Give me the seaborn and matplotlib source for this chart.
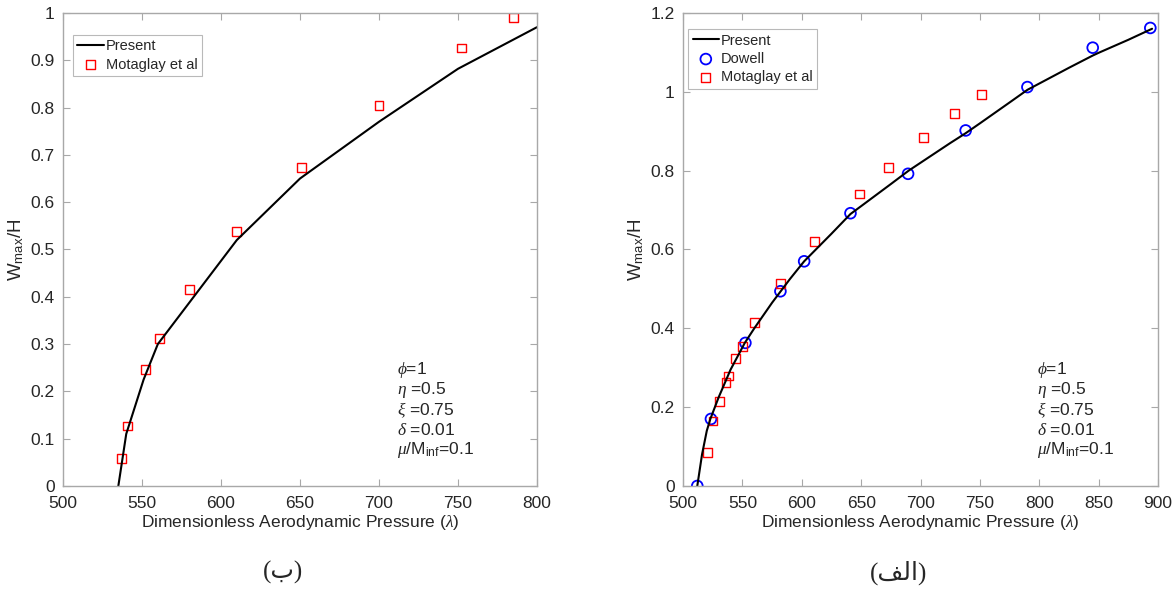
import matplotlib
matplotlib.use("Agg")
import matplotlib.pyplot as plt
import seaborn as sns

# Panel (b): left
left_present_x = [535, 540, 551, 560, 610, 650, 700, 750, 800]
left_present_y = [0.0, 0.11, 0.225, 0.30, 0.52, 0.65, 0.77, 0.882, 0.97]
left_mot_x = [537, 541, 552, 561, 580, 610, 651, 700, 752, 785]
left_mot_y = [0.058, 0.127, 0.247, 0.311, 0.416, 0.538, 0.674, 0.804, 0.926, 0.991]

# Panel (a): right
right_present_x = [512, 516, 520, 523, 530, 540, 552, 560, 575, 590, 602, 625, 641,
                   650, 675, 690, 700, 725, 738, 750, 775, 790, 800, 825, 845, 850, 875, 895]
right_present_y = [0.0, 0.08, 0.14, 0.17, 0.225, 0.295, 0.363, 0.40, 0.465, 0.525, 0.57,
                   0.64, 0.69, 0.71, 0.766, 0.80, 0.82, 0.87, 0.895, 0.92, 0.973, 1.005,
                   1.021, 1.061, 1.092, 1.099, 1.132, 1.16]
right_dowell_x = [512, 523.5, 552.5, 582, 602, 641, 689.5, 738, 790, 845, 893.5]
right_dowell_y = [0.0, 0.170, 0.363, 0.494, 0.570, 0.692, 0.792, 0.902, 1.012, 1.112, 1.162]
right_mot_x = [520.5, 525.3, 530.6, 536.2, 538, 544.3, 549.9, 560.2, 582, 610.4, 648.7,
               673.3, 702.7, 728.8, 751.6]
right_mot_y = [0.084, 0.165, 0.215, 0.263, 0.279, 0.323, 0.353, 0.414, 0.513, 0.620, 0.741,
               0.808, 0.885, 0.945, 0.994]

params_text = ["$\\phi$=1", "$\\eta$ =0.5", "$\\xi$ =0.75", "$\\delta$ =0.01",
               "$\\mu$/M$_{\\rm inf}$=0.1"]

sns.set_style("white")
plt.rcParams["font.family"] = ["Liberation Sans", "DejaVu Sans"]
plt.rcParams["mathtext.fontset"] = "custom"
plt.rcParams["mathtext.it"] = "Liberation Serif:italic"
plt.rcParams["mathtext.rm"] = "Liberation Sans"

AXIS_GRAY = "#a8a8a8"
TEXT_DARK = "#262626"

fig = plt.figure(figsize=(11.74, 5.90), dpi=100)
ax_l = fig.add_axes([0.0537, 0.1763, 0.4037, 0.8017])
ax_r = fig.add_axes([0.5818, 0.1763, 0.4046, 0.8017])


def style_axes(ax):
    for sp in ax.spines.values():
        sp.set_visible(True)
        sp.set_color(AXIS_GRAY)
        sp.set_linewidth(1.0)
    ax.tick_params(direction="in", length=5, width=0.8, color=AXIS_GRAY,
                   labelcolor=TEXT_DARK, labelsize=12.5, top=True, right=True,
                   bottom=True, left=True)
    ax.tick_params(axis="x", pad=7)
    ax.tick_params(axis="y", pad=6)
    ax.set_xlabel("Dimensionless Aerodynamic Pressure ($\\lambda$)", fontsize=12.5,
                  color=TEXT_DARK, labelpad=2)
    ax.set_ylabel("W$_{\\rm max}$/H", fontsize=13.5, color=TEXT_DARK, labelpad=3)


# left panel
sns.lineplot(x=left_present_x, y=left_present_y, ax=ax_l, color="black", lw=1.5,
             estimator=None, label="Present")
sns.scatterplot(x=left_mot_x, y=left_mot_y, ax=ax_l, marker="s", s=40,
                facecolor="none", edgecolor="red", linewidth=1.0, label="Motaglay et al")
ax_l.set_xlim(500, 800)
ax_l.set_ylim(0, 1)
ax_l.set_xticks(range(500, 801, 50))
ax_l.set_yticks([i / 10 for i in range(11)])
ax_l.set_yticklabels(["0"] + [f"{i / 10:.1f}" for i in range(1, 10)] + ["1"])
style_axes(ax_l)

# right panel
sns.lineplot(x=right_present_x, y=right_present_y, ax=ax_r, color="black", lw=1.5,
             estimator=None, label="Present")
sns.scatterplot(x=right_dowell_x, y=right_dowell_y, ax=ax_r, marker="o", s=60,
                facecolor="none", edgecolor="blue", linewidth=1.3, label="Dowell")
sns.scatterplot(x=right_mot_x, y=right_mot_y, ax=ax_r, marker="s", s=40,
                facecolor="none", edgecolor="red", linewidth=1.0, label="Motaglay et al")
ax_r.set_xlim(500, 900)
ax_r.set_ylim(0, 1.2)
ax_r.set_xticks(range(500, 901, 50))
ax_r.set_yticks([0, 0.2, 0.4, 0.6, 0.8, 1.0, 1.2])
ax_r.set_yticklabels(["0", "0.2", "0.4", "0.6", "0.8", "1", "1.2"])
style_axes(ax_r)

for ax, anchor in ((ax_l, (0.015, 0.96)), (ax_r, (0.005, 0.972))):
    leg = ax.legend(loc="upper left", bbox_to_anchor=anchor, fontsize=10.5,
                    frameon=True, fancybox=False, borderpad=0.3, labelspacing=0.3,
                    handlelength=1.8, handletextpad=0.15, borderaxespad=0.2)
    leg.get_frame().set_edgecolor(AXIS_GRAY)
    leg.get_frame().set_linewidth(0.8)
    for t in leg.get_texts():
        t.set_color(TEXT_DARK)

# parameter annotations
for ax, x0 in ((ax_l, 0.705), (ax_r, 0.745)):
    for i, line in enumerate(params_text):
        ax.text(x0, 0.245 - i * 0.042, line, transform=ax.transAxes, fontsize=12.5,
                color=TEXT_DARK, va="center", ha="left")

# subplot captions (Arabic)
fig.text(0.241, 0.030, "(\u0628)", fontsize=18, ha="center", va="center",
         family=["Liberation Serif", "DejaVu Sans"])
fig.text(0.765, 0.030, "(\uFED2\uFEDF\u0627)", fontsize=18, ha="center", va="center",
         family=["Liberation Serif", "DejaVu Sans"])

fig.savefig("out.png", dpi=100)
